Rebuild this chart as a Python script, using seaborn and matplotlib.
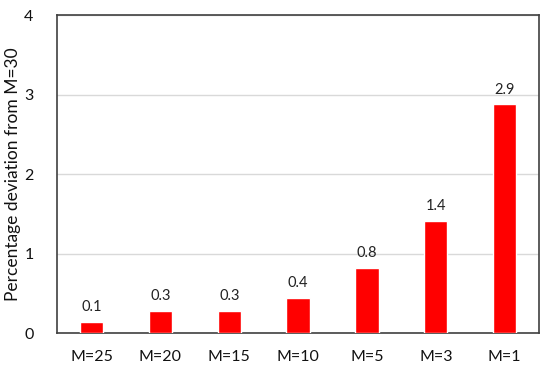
import matplotlib
matplotlib.use("Agg")
import matplotlib.pyplot as plt
import seaborn as sns
import pandas as pd

# data
cases = ["M=25", "M=20", "M=15", "M=10", "M=5", "M=3", "M=1"]
deviation = [0.14, 0.28, 0.28, 0.44, 0.82, 1.41, 2.88]

df = pd.DataFrame({"case": cases, "deviation": deviation})

sns.set_style("white")
plt.rcParams["font.family"] = ["Lato", "DejaVu Sans"]

fig = plt.figure(figsize=(5.5, 3.68), dpi=100)
ax = fig.add_axes([0.104, 0.094, 0.876, 0.864])

sns.barplot(data=df, x="case", y="deviation", color="#ff0000", width=0.34,
            saturation=1, ax=ax, zorder=3)

# value labels on top of bars
for i, v in enumerate(deviation):
    ax.text(i, v + 0.1, f"{v:.1f}", ha="center", va="bottom", fontsize=10.5, color="#222222")

ax.set_ylim(0, 4)
ax.set_xlim(-0.5, 6.5)
ax.set_yticks([0, 1, 2, 3, 4])
ax.yaxis.grid(True, color="#d9d9d9", linewidth=1, zorder=0)
ax.set_axisbelow(True)

for s in ax.spines.values():
    s.set_visible(True)
    s.set_color("#404040")
    s.set_linewidth(1.2)

ax.tick_params(axis="both", length=0, labelsize=11.5, colors="#111111")
ax.tick_params(axis="y", pad=17)
ax.tick_params(axis="x", pad=12)
ax.set_xlabel("")
ax.set_ylabel("Percentage deviation from M=30", fontsize=12.5, color="#111111", labelpad=2)

fig.savefig("out.png", dpi=100)
